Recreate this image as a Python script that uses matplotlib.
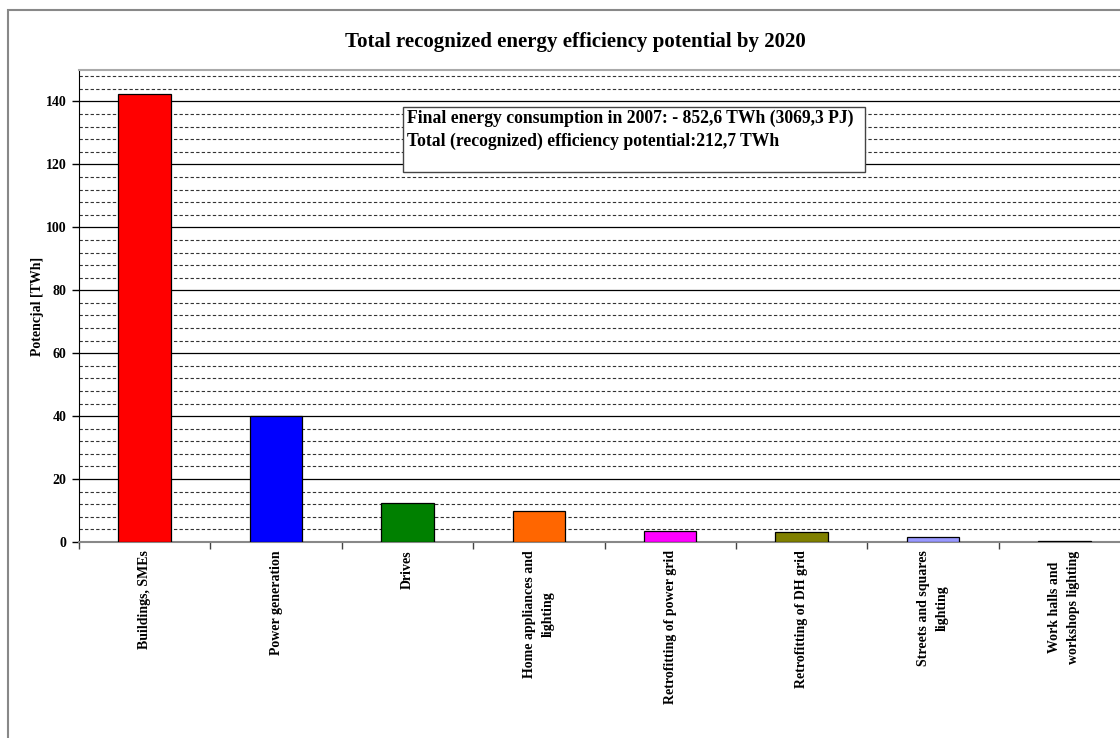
import matplotlib
matplotlib.use("Agg")
import matplotlib.pyplot as plt
from matplotlib.patches import Rectangle
from matplotlib.ticker import MultipleLocator

categories = ["Buildings, SMEs", "Power generation", "Drives",
              "Home appliances and\nlighting", "Retrofitting of power grid",
              "Retrofitting of DH grid", "Streets and squares\nlighting",
              "Work halls and\nworkshops lighting"]
values = [142.4, 40.0, 12.4, 9.8, 3.5, 3.3, 1.5, 0.4]
colors = ["#FF0000", "#0000FF", "#008000", "#FF6600", "#FF00FF",
          "#808000", "#9999FF", "#222222"]

title = "Total recognized energy efficiency potential by 2020"
ylabel = "Potencjal [TWh]"
note_lines = ["Final energy consumption in 2007: - 852,6 TWh (3069,3 PJ)",
              "Total (recognized) efficiency potential:212,7 TWh"]

plt.rcParams['font.family'] = ['Liberation Serif', 'DejaVu Serif']
plt.rcParams['font.weight'] = 'bold'

W, H = 1120, 738
fig = plt.figure(figsize=(W / 100, H / 100), dpi=100)

# outer chart border (cut off at right and bottom in the original)
fig.patches.append(Rectangle((8 / W, -0.1), 1.2, (H - 10) / H + 0.1,
                             transform=fig.transFigure, fill=False,
                             edgecolor="#888888", linewidth=1.5))

ax = fig.add_axes([79 / W, (H - 542) / H, 1051 / W, (542 - 70) / H])

x = list(range(len(categories)))
ax.bar(x, values, width=0.4, color=colors, edgecolor="black",
       linewidth=0.9, zorder=3)

ax.set_xlim(-0.5, len(categories) - 0.5)
ax.set_ylim(0, 150)
ax.yaxis.set_major_locator(MultipleLocator(20))
ax.yaxis.set_minor_locator(MultipleLocator(4))
ax.grid(which="major", axis="y", color="black", linewidth=0.9, zorder=0)
ax.grid(which="minor", axis="y", color="#333333", linewidth=0.8,
        linestyle=(0, (3, 2)), zorder=0)
ax.tick_params(axis="y", which="minor", length=0)
ax.tick_params(axis="y", which="major", length=5, width=1, labelsize=10, pad=4)

ax.set_xticks([i - 0.5 for i in x], minor=False)
ax.set_xticklabels([])
ax.tick_params(axis="x", which="major", length=5, width=1, color="#444444")
ax.set_xticks(x, minor=True)
ax.set_xticklabels(categories, minor=True, rotation=90, fontsize=10,
                   ha="center", va="top", linespacing=1.6)
ax.tick_params(axis="x", which="minor", length=0, pad=6)

ax.spines["right"].set_visible(False)
ax.spines["left"].set_color("black")
ax.spines["bottom"].set_color("#888888")
ax.spines["bottom"].set_linewidth(1.5)
ax.spines["top"].set_color("#aaaaaa")
ax.spines["top"].set_linewidth(1.5)

ax.set_ylabel(ylabel, fontsize=10, fontweight="bold", color="black",
              labelpad=1)

fig.text(575 / W, (H - 42) / H, title, ha="center", va="center",
         fontsize=15)

# note box
fig.patches.append(Rectangle((403 / W, (H - 172) / H), (865 - 403) / W,
                             (172 - 107) / H, transform=fig.transFigure,
                             facecolor="white", edgecolor="#444444",
                             linewidth=1, zorder=5))
for i, line in enumerate(note_lines):
    fig.text(407 / W, (H - 118 - 23 * i) / H, line, ha="left", va="center",
             fontsize=12.7, zorder=6)

fig.savefig("out.png", dpi=100)
